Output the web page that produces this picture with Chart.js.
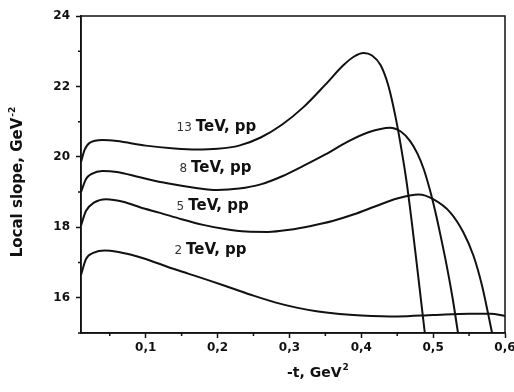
<!DOCTYPE html>
<html>
<head>
<meta charset="utf-8">
<script src="https://cdn.jsdelivr.net/npm/chart.js@4.4.1/dist/chart.umd.min.js"></script>
<style>
    html, body { margin: 0; padding: 0; background: #fff; }
    #slopeChart { display: block; }
</style>
</head>
<body>
<canvas id="slopeChart" width="514" height="392"></canvas>
<script>
// -t values and local slope, one pair of arrays per energy
const t13 = [0.01, 0.015, 0.022, 0.04, 0.06, 0.1, 0.14, 0.17, 0.2, 0.23, 0.26, 0.29, 0.32, 0.35, 0.375, 0.39, 0.403, 0.415, 0.427, 0.438, 0.448, 0.456, 0.463, 0.47, 0.477, 0.483, 0.489];
const slope13 = [19.85, 20.2, 20.4, 20.48, 20.45, 20.32, 20.24, 20.21, 20.23, 20.32, 20.55, 20.92, 21.42, 22.05, 22.6, 22.85, 22.95, 22.88, 22.6, 22.0, 21.1, 20.2, 19.3, 18.2, 17.0, 15.95, 14.9];

const t8 = [0.01, 0.017, 0.025, 0.04, 0.06, 0.092, 0.13, 0.17, 0.2, 0.23, 0.26, 0.29, 0.32, 0.35, 0.38, 0.41, 0.44, 0.455, 0.468, 0.478, 0.487, 0.495, 0.503, 0.511, 0.519, 0.527, 0.535];
const slope8 = [19.0, 19.37, 19.52, 19.6, 19.57, 19.42, 19.25, 19.12, 19.06, 19.1, 19.22, 19.45, 19.75, 20.07, 20.42, 20.7, 20.83, 20.72, 20.45, 20.1, 19.65, 19.1, 18.45, 17.7, 16.9, 16.0, 14.95];

const t5 = [0.01, 0.017, 0.028, 0.045, 0.07, 0.092, 0.12, 0.15, 0.18, 0.21, 0.24, 0.27, 0.3, 0.33, 0.36, 0.39, 0.42, 0.45, 0.48, 0.5, 0.524, 0.542, 0.556, 0.568, 0.577, 0.583];
const slope5 = [18.05, 18.47, 18.7, 18.8, 18.72, 18.57, 18.41, 18.23, 18.07, 17.95, 17.88, 17.87, 17.93, 18.04, 18.18, 18.37, 18.6, 18.82, 18.93, 18.8, 18.42, 17.86, 17.2, 16.35, 15.5, 14.9];

const t2 = [0.01, 0.017, 0.028, 0.043, 0.06, 0.08, 0.1, 0.13, 0.16, 0.19, 0.22, 0.25, 0.28, 0.31, 0.34, 0.37, 0.4, 0.45, 0.5, 0.55, 0.58, 0.6];
const slope2 = [16.65, 17.1, 17.28, 17.34, 17.31, 17.22, 17.1, 16.88, 16.68, 16.48, 16.27, 16.06, 15.87, 15.72, 15.61, 15.54, 15.5, 15.47, 15.51, 15.55, 15.55, 15.48];

const xTicks = [0.1, 0.2, 0.3, 0.4, 0.5, 0.6];
const xMinor = [0.05, 0.15, 0.25, 0.35, 0.45, 0.55];
const yTicks = [16, 18, 20, 22, 24];
const yMinor = [15, 17, 19, 21, 23];

// curve captions
const energies = ["13", "8", "5", "2"];
const labelT = [0.143, 0.147, 0.143, 0.14];
const labelSlope = [20.74, 19.56, 18.5, 17.24];

document.addEventListener("DOMContentLoaded", function () {
    const ctx = document.getElementById("slopeChart").getContext("2d");
    const ink = "#111";
    const boldFont = { family: "DejaVu Sans", weight: "bold", size: 12 };

    function toPoints(ts, ys) {
        return ts.map((t, i) => ({ x: t, y: ys[i] }));
    }

    function curve(ts, ys) {
        return {
            data: toPoints(ts, ys),
            borderColor: ink,
            borderWidth: 2,
            pointRadius: 0,
            fill: false,
            cubicInterpolationMode: "monotone",
        };
    }

    // frame, minor ticks, captions and axis titles
    const decorPlugin = {
        id: "decor",
        afterDraw: (chart) => {
            const c = chart.ctx;
            const a = chart.chartArea;
            const x = chart.scales.x;
            const y = chart.scales.y;
            c.save();
            c.strokeStyle = ink;
            c.lineWidth = 1.5;
            c.strokeRect(a.left, a.top, a.right - a.left, a.bottom - a.top);

            c.beginPath();
            xMinor.forEach((v) => {
                const px = x.getPixelForValue(v);
                c.moveTo(px, a.bottom);
                c.lineTo(px, a.bottom + 3);
            });
            yMinor.forEach((v) => {
                const py = y.getPixelForValue(v);
                c.moveTo(a.left, py);
                c.lineTo(a.left - 3, py);
            });
            c.stroke();

            c.textBaseline = "alphabetic";
            c.textAlign = "left";
            energies.forEach((e, i) => {
                const px = x.getPixelForValue(labelT[i]);
                const py = y.getPixelForValue(labelSlope[i]);
                c.font = '12px "DejaVu Sans"';
                c.fillStyle = "#333";
                c.fillText(e, px, py);
                const w = c.measureText(e).width;
                c.font = 'bold 15px "DejaVu Sans"';
                c.fillStyle = ink;
                c.fillText("TeV, pp", px + w + 4, py);
            });

            // x title
            c.font = 'bold 14px "DejaVu Sans"';
            c.fillText("-t, GeV", 287, 377);
            const wx = c.measureText("-t, GeV").width;
            c.font = 'bold 9px "DejaVu Sans"';
            c.fillText("2", 287 + wx + 1, 370);

            // y title
            c.translate(17, 182);
            c.rotate(-Math.PI / 2);
            c.font = 'bold 15px "DejaVu Sans"';
            const main = "Local slope, GeV";
            const w1 = c.measureText(main).width;
            c.font = 'bold 9px "DejaVu Sans"';
            const w2 = c.measureText("-2").width;
            const start = -(w1 + w2 + 1) / 2;
            c.font = 'bold 15px "DejaVu Sans"';
            c.fillText(main, start, 5);
            c.font = 'bold 9px "DejaVu Sans"';
            c.fillText("-2", start + w1 + 1, -2);
            c.restore();
        },
    };

    new Chart(ctx, {
        type: "line",
        data: {
            datasets: [
                curve(t13, slope13),
                curve(t8, slope8),
                curve(t5, slope5),
                curve(t2, slope2),
            ],
        },
        options: {
            responsive: false,
            animation: false,
            layout: {
                autoPadding: false,
                padding: { left: 0, right: 9, top: 16, bottom: 0 },
            },
            plugins: {
                legend: { display: false },
                tooltip: { enabled: false },
            },
            scales: {
                x: {
                    type: "linear",
                    min: 0.01,
                    max: 0.6,
                    afterBuildTicks: (scale) => {
                        scale.ticks = xTicks.map((v) => ({ value: v }));
                    },
                    afterFit: (scale) => {
                        scale.height = 59;
                        // let the last label hang over the right edge
                        scale.paddingLeft = 0;
                        scale.paddingRight = 0;
                    },
                    grid: {
                        drawOnChartArea: false,
                        tickLength: 5,
                        tickColor: ink,
                        tickWidth: 1.5,
                    },
                    border: { color: ink, width: 1.5 },
                    ticks: {
                        color: ink,
                        font: boldFont,
                        padding: 3,
                        maxRotation: 0,
                        callback: (v) => v.toFixed(1).replace(".", ","),
                    },
                },
                y: {
                    type: "linear",
                    min: 15,
                    max: 24,
                    afterBuildTicks: (scale) => {
                        scale.ticks = yTicks.map((v) => ({ value: v }));
                    },
                    afterFit: (scale) => {
                        scale.width = 81;
                        scale.paddingTop = 0;
                        scale.paddingBottom = 0;
                    },
                    grid: {
                        drawOnChartArea: false,
                        tickLength: 5,
                        tickColor: ink,
                        tickWidth: 1.5,
                    },
                    border: { color: ink, width: 1.5 },
                    ticks: {
                        color: ink,
                        font: boldFont,
                        padding: 6,
                        callback: (v) => String(v),
                    },
                },
            },
        },
        plugins: [decorPlugin],
    });
});
</script>
</body>
</html>
